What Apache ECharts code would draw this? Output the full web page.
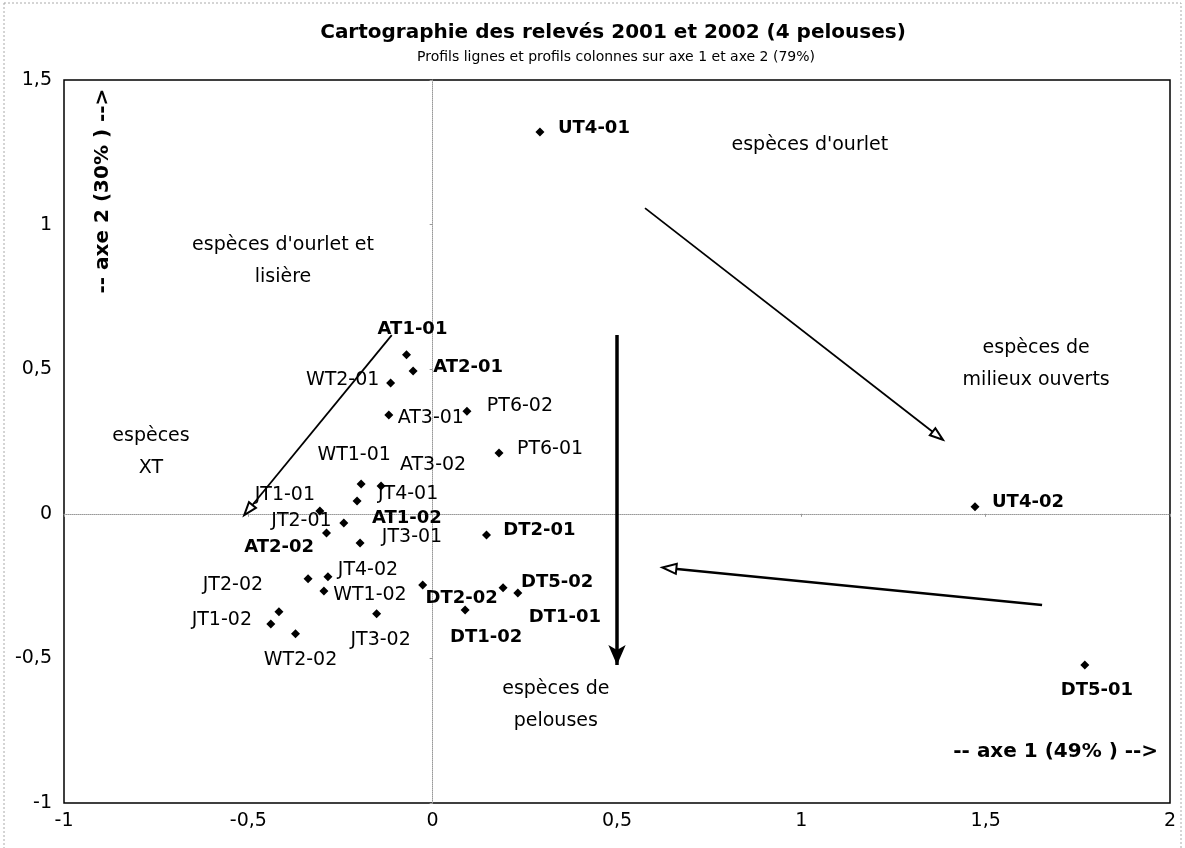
<!DOCTYPE html>
<html><head><meta charset="utf-8">
<script src="https://cdn.jsdelivr.net/npm/echarts@6/dist/echarts.min.js"></script>
<style>html,body{margin:0;padding:0;background:#fff}#c{width:1185px;height:848px}</style>
</head><body><div id="c"></div>
<script>
// ---- data ----
const pointNames = ['UT4-01','AT1-01','AT2-01','WT2-01','AT3-01','PT6-02','PT6-01','WT1-01','AT3-02','JT4-01',
  'JT1-01','JT2-01','AT1-02','JT3-01','AT2-02','JT4-02','WT1-02','JT2-02','JT1-02','WT2-02',
  'JT3-02','DT2-02','DT5-02','DT1-01','DT1-02','DT2-01','UT4-02','DT5-01'];
const axis1Values = [0.291,-0.071,-0.053,-0.114,-0.119,0.093,0.180,-0.194,-0.140,-0.205,
  -0.306,-0.288,-0.241,-0.197,-0.338,-0.284,-0.295,-0.417,-0.439,-0.372,
  -0.152,-0.027,0.191,0.231,0.088,0.146,1.471,1.769];
const axis2Values = [1.320,0.550,0.494,0.452,0.342,0.355,0.210,0.103,0.096,0.044,
  0.010,-0.066,-0.032,-0.101,-0.225,-0.218,-0.267,-0.339,-0.381,-0.415,
  -0.346,-0.246,-0.256,-0.274,-0.333,-0.073,0.024,-0.523];
const boldPoints = ['UT4-01','AT1-01','AT2-01','AT1-02','AT2-02','DT2-02','DT5-02','DT1-01','DT1-02','DT2-01','UT4-02','DT5-01'];
const xTicks = [-1, -0.5, 0, 0.5, 1, 1.5, 2];
const yTicks = [-1, -0.5, 0, 0.5, 1, 1.5];
// arrows: from / to, in axis units
const arrowFrom = [[-0.111, 0.618], [0.576, 1.057], [0.500, 0.618], [1.653, -0.315]];
const arrowTo   = [[-0.500, 0.013], [1.370, 0.270], [0.500, -0.523], [0.642, -0.188]];
const zoneTexts = ["espèces d'ourlet", "espèces d'ourlet et\nlisière", "espèces de\nmilieux ouverts", "espèces\nXT", "espèces de\npelouses"];
const zoneAxis1 = [1.023, -0.406, 1.637, -0.764, 0.334];
const zoneAxis2 = [1.275, 0.874, 0.518, 0.214, -0.661];
const axisTitles = ['-- axe 1 (49% ) -->', '-- axe 2 (30% ) -->'];
const axisTitleAxis1 = [1.690, -0.894];
const axisTitleAxis2 = [-0.824, 1.116];
const titleText = 'Cartographie des relevés 2001 et 2002 (4 pelouses)';
const subtitleText = 'Profils lignes et profils colonnes sur axe 1 et axe 2 (79%)';

// ---- layout / style (label offsets in pixels, relative to each point) ----
const labelOffsets = [[54,-4],[6,-25],[55,-4],[-48,-3],[42,3],[53,-5],[51,-4],[-7,-29],[52,-21],[51,-7],
  [-35,-16],[-25,-12],[63,-5],[52,-6],[-29,-32],[40,-7],[46,4],[-46,-27],[-49,-4],[5,26],
  [4,26],[39,13],[54,-6],[47,24],[21,27],[53,-5],[53,-5],[12,25]];
const arrowStyles = [
  {width:1.8, head:'emptyTriangle', size:[9,13]},
  {width:1.8, head:'emptyTriangle', size:[9,13]},
  {width:3.5, head:'arrow', size:[13,20]},
  {width:2.5, head:'emptyTriangle', size:[10,14]}
];
const FONT = 'DejaVu Sans';
const fmt = v => String(v).replace('.', ',');

const chart = echarts.init(document.getElementById('c'), null, {renderer:'canvas'});
const pointData = pointNames.map((n, i) => {
  const b = boldPoints.includes(n);
  return {
    name: n, value: [axis1Values[i], axis2Values[i]],
    label: {offset: labelOffsets[i], fontWeight: b ? 'bold' : 'normal', fontSize: b ? 18 : 19}
  };
});
const zoneData = zoneTexts.map((t, i) => ({name: t, value: [zoneAxis1[i], zoneAxis2[i]]}));
const titleData = axisTitles.map((t, i) => ({name: t, value: [axisTitleAxis1[i], axisTitleAxis2[i]],
  label: {rotate: i === 1 ? 90 : 0}}));
const arrowData = arrowFrom.map((f, i) => {
  const s = arrowStyles[i];
  const ls = {color: '#000', width: s.width, type: 'solid'};
  return [
    {coord: f, symbol: 'none', lineStyle: ls},
    {coord: arrowTo[i], symbol: s.head, symbolSize: s.size, lineStyle: ls}
  ];
});
const solidItem = {color:'#000', opacity:1};

const option = {
  animation: false,
  backgroundColor: '#fff',
  graphic: [
    {type:'rect', silent:true, shape:{x:4, y:3, width:1177, height:900},
      style:{fill:'none', stroke:'#aaa', lineWidth:1, lineDash:[2,2]}},
    {type:'text', silent:true, x:613, y:33,
      style:{text:titleText, fill:'#000', font:'bold 20px "DejaVu Sans"', align:'center', verticalAlign:'middle'}},
    {type:'text', silent:true, x:616, y:57,
      style:{text:subtitleText, fill:'#000', font:'14px "DejaVu Sans"', align:'center', verticalAlign:'middle'}}
  ],
  grid: {left:64, right:15, top:80, bottom:45, show:true, borderColor:'#000', borderWidth:1.5, backgroundColor:'transparent'},
  xAxis: [
    {type:'value', min:xTicks[0], max:xTicks[xTicks.length-1], interval:0.5,
      axisLine:{show:true, onZero:true, lineStyle:{color:'#999', type:'dotted', width:1}},
      axisTick:{show:true, length:3, lineStyle:{color:'#999'}}, axisLabel:{show:false}, splitLine:{show:false}},
    {type:'value', position:'bottom', min:xTicks[0], max:xTicks[xTicks.length-1], interval:0.5,
      axisLine:{show:false, onZero:false}, axisTick:{show:false}, splitLine:{show:false},
      axisLabel:{formatter:fmt, fontSize:19, fontFamily:FONT, color:'#000', margin:9}}
  ],
  yAxis: [
    {type:'value', min:yTicks[0], max:yTicks[yTicks.length-1], interval:0.5,
      axisLine:{show:true, onZero:true, lineStyle:{color:'#999', type:'dotted', width:1}},
      axisTick:{show:true, length:3, lineStyle:{color:'#999'}}, axisLabel:{show:false}, splitLine:{show:false}},
    {type:'value', position:'left', min:yTicks[0], max:yTicks[yTicks.length-1], interval:0.5,
      axisLine:{show:false, onZero:false}, axisTick:{show:false}, splitLine:{show:false},
      axisLabel:{formatter:fmt, fontSize:19, fontFamily:FONT, color:'#000', margin:12}}
  ],
  series: [
    {type:'scatter', name:'arrows', data:[], silent:true,
      markLine:{silent:true, animation:false, label:{show:false}, data:arrowData}},
    {type:'scatter', name:'relevés', data:pointData, symbol:'diamond', symbolSize:9,
      itemStyle:solidItem, silent:true, z:3,
      label:{show:true, position:'inside', formatter:'{b}', color:'#000', fontFamily:FONT}},
    {type:'scatter', name:'zones', data:zoneData, symbolSize:0, silent:true, itemStyle:solidItem,
      label:{show:true, position:'inside', formatter:'{b}', color:'#000', fontFamily:FONT, fontSize:19, lineHeight:32, align:'center'}},
    {type:'scatter', name:'axes', data:titleData, symbolSize:0, silent:true, itemStyle:solidItem,
      label:{show:true, position:'inside', formatter:'{b}', color:'#000', fontFamily:FONT, fontSize:20, fontWeight:'bold'}}
  ]
};
chart.setOption(option);
</script></body></html>
